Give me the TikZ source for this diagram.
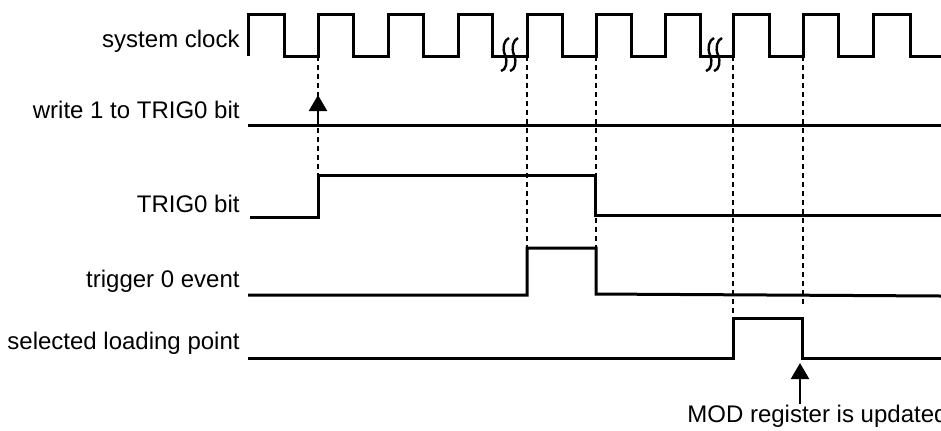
\documentclass[tikz,border=0pt]{standalone}
\usepackage{fontspec}
\setmainfont{Liberation Sans}
\usetikzlibrary{arrows.meta}
\begin{document}
\begin{tikzpicture}[x=0.5pt,y=-0.5pt,
  sig/.style={line width=1.5pt, line join=miter},
  guide/.style={line width=0.7pt, dash pattern=on 2.5pt off 2pt},
  squig/.style={line width=1.2pt},
  arr/.style={line width=1.1pt, -{Triangle[width=9pt,length=8pt]}},
  lbl/.style={font=\fontsize{12}{14}\selectfont, inner sep=0pt}]
\useasboundingbox (0,0) rectangle (941,430);
% labels
\node[lbl, anchor=base east] (lclk) at (240,47) {system clock};
\node[lbl, anchor=base east] (lwr) at (240,118) {write 1 to TRIG0 bit};
\node[lbl, anchor=base east] (ltrg) at (240,212) {TRIG0 bit};
\node[lbl, anchor=base east] (lev) at (240,287) {trigger 0 event};
\node[lbl, anchor=base east] (lsel) at (240,349) {selected loading point};
\node[lbl, anchor=base west] (lmod) at (687,422) {MOD register is updated};
% guides
\draw[guide] (318,56) -- (318,175);
\draw[guide] (527,56) -- (527,250);
\draw[guide] (596,56) -- (596,248);
\draw[guide] (733,56) -- (733,320);
\draw[guide] (803,56) -- (803,304);
% clock
\draw[sig] (248,56) -- (248,14) -- (284,14) -- (284,56) -- (318,56) -- (318,14) -- (353,14) -- (353,56)
  -- (388,56) -- (388,14) -- (423,14) -- (423,56) -- (458,56) -- (458,14) -- (492,14) -- (492,56)
  -- (527,56) -- (527,14) -- (562,14) -- (562,56) -- (596,56) -- (596,14) -- (631,14) -- (631,56)
  -- (665,56) -- (665,14) -- (700,14) -- (700,56) -- (733,56) -- (733,14) -- (769,14) -- (769,56)
  -- (803,56) -- (803,14) -- (838,14) -- (838,56) -- (873,56) -- (873,14) -- (910,14) -- (910,56) -- (941,56);
% break marks
\foreach \c in {505,514,710,718}{
  \draw[squig] (\c+4,38) .. controls (\c-1,40) and (\c-3,48) .. (\c,55)
     .. controls (\c+3,62) and (\c+1,70) .. (\c-4,71);
}
% write line
\draw[sig] (248,125) -- (941,125);
% TRIG0 bit
\draw[sig] (250,217) -- (318,217) -- (318,175) -- (595,175) -- (595,215) -- (941,215);
% trigger 0 event
\draw[sig] (248,295) -- (527,295) -- (527,248) -- (596,248) -- (596,294) -- (941,296);
% selected loading point
\draw[sig] (248,358) -- (733,358) -- (733,318) -- (802,318) -- (802,358) -- (941,358);
% arrows
\coordinate (a1s) at (318,125);
\coordinate (a1e) at (318,95);
\draw[arr] (a1s) -- (a1e);
\coordinate (a2s) at (800,404);
\coordinate (a2e) at (800,363);
\draw[arr] (a2s) -- (a2e);
\end{tikzpicture}
\end{document}
